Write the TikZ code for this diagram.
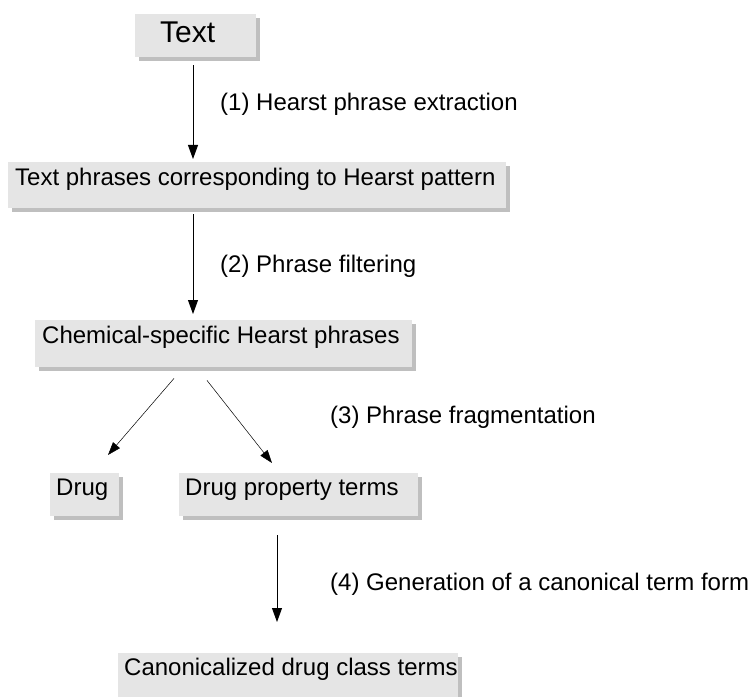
\documentclass[tikz,border=0pt]{standalone}
\usepackage{fontspec}
\setmainfont{Liberation Sans}
\usetikzlibrary{arrows.meta,shadows,calc}
\begin{document}
\begin{tikzpicture}[x=1bp,y=-1bp,
  box/.style={fill=black!10, draw=none, inner sep=0pt, anchor=north west,
    general shadow={fill=black!25, shadow xshift=4bp, shadow yshift=-4bp}},
  boxtext/.style={anchor=base west, inner sep=0pt, font=\fontsize{24bp}{28bp}\selectfont},
  steplabel/.style={anchor=base west, inner sep=0pt, font=\fontsize{24bp}{28bp}\selectfont},
  arr/.style={-{Triangle[length=14bp,width=10bp]}, line width=0.8bp},
  diag/.style={-{Triangle[length=13bp,width=9bp]}, line width=0.5bp}]
\useasboundingbox (0,0) rectangle (750,697);

% process boxes, each with its caption set near the top left corner
\node[box, minimum width=121bp, minimum height=43bp] (b1) at (135,14) {};
\node[boxtext, font=\fontsize{30bp}{34bp}\selectfont] (t1) at ($(b1.north west)+(25,29)$) {Text};

\node[box, minimum width=498bp, minimum height=46bp] (b2) at (8,162) {};
\node[boxtext] (t2) at ($(b2.north west)+(7,23)$) {Text phrases corresponding to Hearst pattern};

\node[box, minimum width=377bp, minimum height=47bp] (b3) at (35,320) {};
\node[boxtext] (t3) at ($(b3.north west)+(7,23)$) {Chemical-specific Hearst phrases};

\node[box, minimum width=69bp, minimum height=43bp] (b4) at (50,473) {};
\node[boxtext] (t4) at ($(b4.north west)+(6,22)$) {Drug};

\node[box, minimum width=239bp, minimum height=43bp] (b5) at (179,473) {};
\node[boxtext] (t5) at ($(b5.north west)+(6,22)$) {Drug property terms};

\node[box, minimum width=340bp, minimum height=50bp] (b6) at (118,653) {};
\node[boxtext] (t6) at ($(b6.north west)+(6,22)$) {Canonicalized drug class terms};

% step labels
\node[steplabel] (l1) at (220,111) {(1) Hearst phrase extraction};
\node[steplabel] (l2) at (220,272) {(2) Phrase filtering};
\node[steplabel] (l3) at (330,423) {(3) Phrase fragmentation};
\node[steplabel] (l4) at (330,590) {(4) Generation of a canonical term form};

% connectors
\coordinate (c1) at ($(b1.south west)+(58,8)$);
\coordinate (c2) at ($(b2.north west)+(185,-3)$);
\draw[arr] (c1) -- (c2);
\coordinate (c3) at ($(b2.south west)+(185,6)$);
\coordinate (c4) at ($(b3.north west)+(158,-6)$);
\draw[arr] (c3) -- (c4);
\coordinate (c5) at ($(b3.south west)+(139,11)$);
\coordinate (c6) at ($(b4.north west)+(58,-18)$);
\draw[diag] (c5) -- (c6);
\coordinate (c7) at ($(b3.south west)+(172,13)$);
\coordinate (c8) at ($(b5.north west)+(93,-10)$);
\draw[diag] (c7) -- (c8);
\coordinate (c9) at ($(b5.south west)+(98,19)$);
\coordinate (c10) at ($(b6.north west)+(159,-31)$);
\draw[arr] (c9) -- (c10);
\end{tikzpicture}
\end{document}
